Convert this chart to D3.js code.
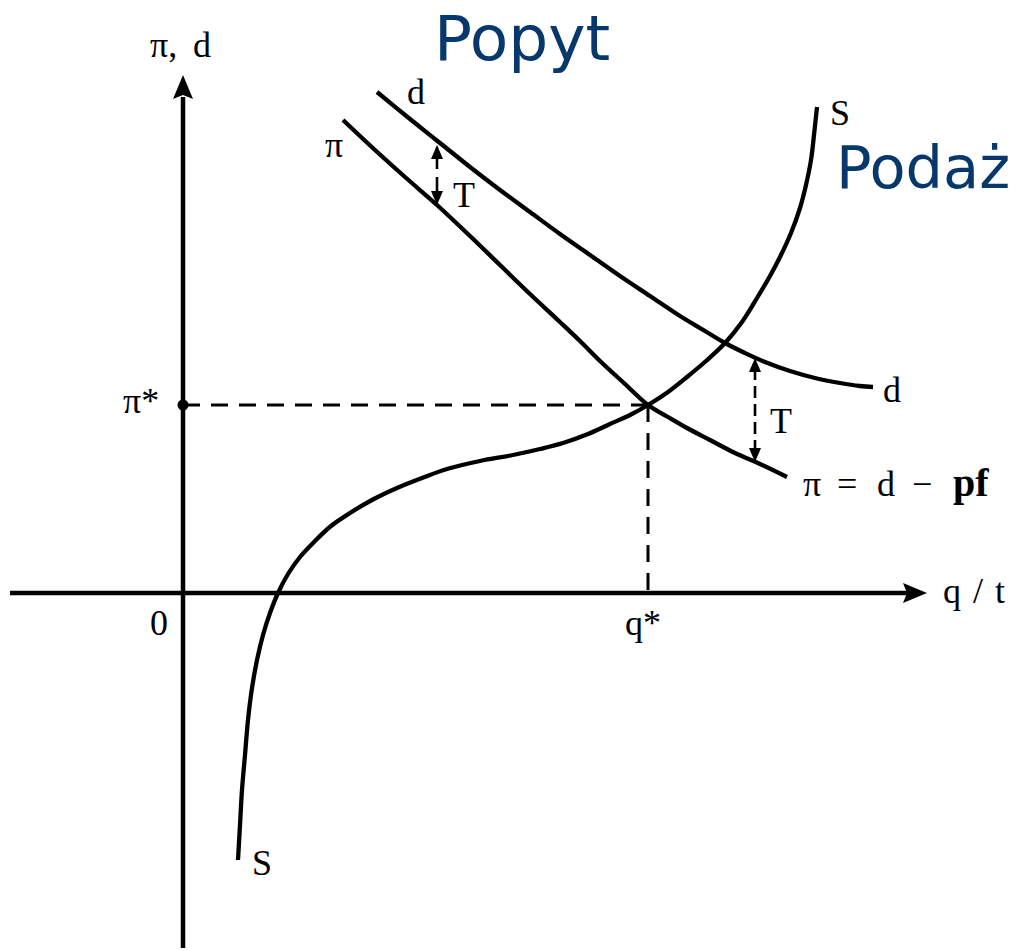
<!DOCTYPE html>
<html>
<head>
<meta charset="utf-8">
<script src="https://cdn.jsdelivr.net/npm/d3@7"></script>
<style>
  html, body { margin: 0; padding: 0; background: #fff; }
  svg { display: block; }
</style>
</head>
<body>
<svg id="chart" width="1017" height="951"></svg>
<script>
// ---------- data (q = quantity units, v = price / value units) ----------
// demand curve d
const demandQ = [194, 227, 257, 287, 317, 347, 377, 407, 437, 467, 497, 522, 542, 562, 582, 607, 632, 657, 677, 690];
const demandV = [501, 474, 450, 426, 403, 381, 359, 338, 317, 297, 277, 262, 250, 240, 231, 222, 215, 210, 207, 206];

// net curve π = d − pf
const netQ = [160, 192, 222, 254, 287, 317, 347, 377, 397, 417, 442, 465, 485, 504, 527, 552, 577, 604];
const netV = [473, 443, 416, 388, 357, 328, 299, 271, 252, 232, 209, 188, 176, 165, 153, 140, 129, 116];

// supply curve S
const supplyQ = [55, 57, 59, 62, 65, 69, 74, 80, 87, 95, 105, 117, 132, 148, 167, 189, 214, 239, 264, 297, 330, 357, 380, 405, 427, 447, 465, 485, 504, 523, 542, 559, 574, 587, 597, 608, 617, 623, 628, 631, 634];
const supplyV = [-267, -232, -197, -162, -127, -95, -67, -42, -20, 0, 19, 36, 52, 67, 80, 93, 105, 115, 124, 132, 138, 144, 150, 159, 169, 178, 188, 201, 216, 232, 250, 271, 295, 317, 336, 360, 385, 408, 433, 458, 486];

const qStar = 465;
const piStar = 188;

const taxQ = [254, 572];
const taxTop = [448, 235];
const taxBottom = [388, 131];

const xTickLabels = ["0", "q*"];
const yTickLabels = ["π*"];
const axisTitles = ["q / t", "π, d"];
const curveLabels = ["d", "π", "S", "d", "π = d − pf", "S"];
const titles = ["Popyt", "Podaż"];

// ---------- scales ----------
const x = d3.scaleLinear().domain([-173, 834]).range([10, 1017]);
const y = d3.scaleLinear().domain([-358, 593]).range([951, 0]);

const svg = d3.select("#chart");
const serif = "'Liberation Serif', 'Times New Roman', serif";
const FS = 36;

// ---------- axes ----------
const axisStroke = 4.5;
svg.append("line")
  .attr("x1", x(-173)).attr("x2", x(724))
  .attr("y1", y(0)).attr("y2", y(0))
  .attr("stroke", "#000").attr("stroke-width", axisStroke);
svg.append("path")
  .attr("d", `M${x(744)},${y(0)} L${x(720)},${y(0) - 10} L${x(724)},${y(0)} L${x(720)},${y(0) + 10} Z`)
  .attr("fill", "#000");

svg.append("line")
  .attr("x1", x(0)).attr("x2", x(0))
  .attr("y1", y(-355)).attr("y2", y(496))
  .attr("stroke", "#000").attr("stroke-width", axisStroke);
svg.append("path")
  .attr("d", `M${x(0)},${y(518)} L${x(0) - 10},${y(494)} L${x(0)},${y(498)} L${x(0) + 10},${y(494)} Z`)
  .attr("fill", "#000");

// ---------- dashed guides ----------
svg.append("line")
  .attr("x1", x(0)).attr("x2", x(qStar))
  .attr("y1", y(piStar)).attr("y2", y(piStar))
  .attr("stroke", "#000").attr("stroke-width", 3)
  .attr("stroke-dasharray", "17,11");
svg.append("line")
  .attr("x1", x(qStar)).attr("x2", x(qStar))
  .attr("y1", y(piStar)).attr("y2", y(0))
  .attr("stroke", "#000").attr("stroke-width", 3)
  .attr("stroke-dasharray", "17,11");
svg.append("circle")
  .attr("cx", x(0)).attr("cy", y(piStar)).attr("r", 5.5).attr("fill", "#000");

// ---------- curves ----------
const line = d3.line()
  .x(d => x(d[0])).y(d => y(d[1]))
  .curve(d3.curveCatmullRom.alpha(0.5));

const curves = [
  d3.zip(demandQ, demandV),
  d3.zip(netQ, netV),
  d3.zip(supplyQ, supplyV)
];
svg.selectAll("path.curve").data(curves).enter().append("path")
  .attr("class", "curve")
  .attr("d", line)
  .attr("fill", "none")
  .attr("stroke", "#000")
  .attr("stroke-width", 4.3)
  .attr("stroke-linecap", "butt")
  .attr("stroke-linejoin", "round");

// ---------- tax arrows ----------
taxQ.forEach((q, i) => {
  const xp = x(q), yt = y(taxTop[i]), yb = y(taxBottom[i]);
  svg.append("line")
    .attr("x1", xp).attr("x2", xp)
    .attr("y1", yt + 10).attr("y2", yb - 10)
    .attr("stroke", "#000").attr("stroke-width", 2.6)
    .attr("stroke-dasharray", i === 0 ? "14,8" : "12,6");
  svg.append("path")
    .attr("d", `M${xp},${yt} L${xp - 6},${yt + 14} L${xp + 6},${yt + 14} Z`)
    .attr("fill", "#000");
  svg.append("path")
    .attr("d", `M${xp},${yb} L${xp - 6},${yb - 14} L${xp + 6},${yb - 14} Z`)
    .attr("fill", "#000");
  svg.append("text")
    .attr("x", xp + (i === 0 ? 16 : 15))
    .attr("y", (yt + yb) / 2 + (i === 0 ? 32 : 23))
    .attr("font-family", serif).attr("font-size", FS)
    .attr("fill", "#000")
    .text("T");
});

// ---------- labels ----------
function label(txt, px, py, size, anchor) {
  return svg.append("text")
    .attr("x", px).attr("y", py)
    .attr("font-family", serif).attr("font-size", size || FS)
    .attr("text-anchor", anchor || "start")
    .attr("fill", "#000")
    .text(txt);
}
// split a label into tokens placed with gaps
function spacedLabel(tokens, px, py, gaps, boldLast) {
  const t = svg.append("text")
    .attr("y", py)
    .attr("font-family", serif).attr("font-size", FS)
    .attr("fill", "#000");
  let cx = px;
  tokens.forEach((tok, k) => {
    const s = t.append("tspan").attr("x", cx).text(tok);
    if (boldLast && k === tokens.length - 1) s.attr("font-weight", "bold").attr("font-size", 40);
    cx += gaps[k] || 0;
  });
  return t;
}

// curve end labels
label(curveLabels[0], x(demandQ[0]) + 30, y(demandV[0]) + 12);
label(curveLabels[1], x(netQ[0]) - 18, y(netV[0]) + 37);
label(curveLabels[2], x(supplyQ[supplyQ.length - 1]) + 13, y(supplyV[supplyV.length - 1]) + 18);
label(curveLabels[3], x(demandQ[demandQ.length - 1]) + 10, y(demandV[demandV.length - 1]) + 15);
spacedLabel(curveLabels[4].split(" "),
  x(netQ[netQ.length - 1]) + 16, y(netV[netV.length - 1]) + 19,
  [34, 40, 35, 41], true);
label(curveLabels[5], x(supplyQ[0]) + 14, y(supplyV[0]) + 15);

// axis ticks and titles
label(xTickLabels[0], x(0) - 33, y(0) + 42);
label(xTickLabels[1], x(qStar) - 23, y(0) + 42);
label(yTickLabels[0], x(0) - 60, y(piStar) + 8);
spacedLabel(axisTitles[0].split(" "), x(744) + 16, y(0) + 10, [30, 22]);
spacedLabel(["π,", "d"], x(0) - 33, y(536), [43]);

// blue titles
svg.append("text")
  .attr("x", 434).attr("y", 60)
  .attr("font-family", "'DejaVu Sans', Verdana, sans-serif")
  .attr("font-size", 63).attr("fill", "#06386b")
  .text(titles[0]);
svg.append("text")
  .attr("x", 836).attr("y", 188)
  .attr("font-family", "'DejaVu Sans', Verdana, sans-serif")
  .attr("font-size", 59).attr("fill", "#06386b")
  .text(titles[1]);
</script>
</body>
</html>
